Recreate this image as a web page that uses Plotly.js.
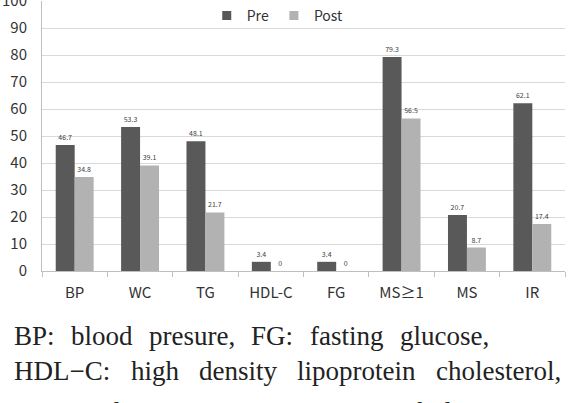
<!DOCTYPE html>
<html>
<head>
<meta charset="utf-8">
<script src="https://cdn.plot.ly/plotly-3.0.1.min.js"></script>
<style>
  html, body { margin: 0; padding: 0; background: #fff; }
  #chart { width: 575px; height: 403px; }
</style>
</head>
<body>
<div id="chart"></div>
<script>
// Prevalence (%) of each component before and after the programme
const categories = ['BP', 'WC', 'TG', 'HDL-C', 'FG', 'MS\u22651', 'MS', 'IR'];
const preValues  = [46.7, 53.3, 48.1, 3.4, 3.4, 79.3, 20.7, 62.1];
const postValues = [34.8, 39.1, 21.7, 0, 0, 56.5, 8.7, 17.4];
const seriesNames = ['Pre', 'Post'];
const yTicks = [0, 10, 20, 30, 40, 50, 60, 70, 80, 90, 100];

// Abbreviation notes printed under the chart
const captionLines = [
  'BP: blood presure, FG: fasting glucose,',
  'HDL\u2212C: high density lipoprotein cholesterol,',
  'IR: Insulin Resistance, MS: metabolic'
];

const W = 575, H = 403;
const M = { l: 42, r: 10, t: 0, b: 132 };
const plotW = W - M.l - M.r;
const plotH = H - M.t - M.b;

const preColor = '#595959';
const postColor = '#b2b2b2';
const labelFont = '"Noto Sans CJK KR", "Noto Sans", sans-serif';
const captionFont = '"Liberation Serif", "DejaVu Serif", serif';

function barTrace(name, values, color) {
  return {
    type: 'bar', name: name, x: categories, y: values,
    marker: { color: color },
    text: values.map(v => String(v)),
    textposition: 'outside',
    textfont: { family: labelFont, size: 7, color: '#404040' },
    cliponaxis: false,
    showlegend: false,
    hoverinfo: 'x+y'
  };
}

// Legend entries with small square swatches
function legendTrace(name, color) {
  return {
    type: 'scatter', mode: 'markers', name: name, x: [null], y: [null],
    marker: { symbol: 'square', size: 9, color: color },
    showlegend: true, hoverinfo: 'skip'
  };
}

const traces = [
  barTrace(seriesNames[0], preValues, preColor),
  barTrace(seriesNames[1], postValues, postColor),
  legendTrace(seriesNames[0], preColor),
  legendTrace(seriesNames[1], postColor)
];

// Justify each caption line between two pixel columns, one annotation per word
const capSize = 27;
const measure = document.createElement('canvas').getContext('2d');
measure.font = capSize + 'px ' + captionFont;
const lineSpans = [[13, 488], [13, 560], [13, 470]];
const lineCentres = [336, 371, 413];
const annotations = [];
captionLines.forEach((line, i) => {
  const words = line.split(' ');
  const widths = words.map(w => measure.measureText(w).width);
  const total = widths.reduce((a, b) => a + b, 0);
  const [x0, x1] = lineSpans[i];
  const gap = Math.max(6, (x1 - x0 - total) / (words.length - 1));
  let px = x0;
  words.forEach((w, j) => {
    annotations.push({
      xref: 'paper', yref: 'paper',
      x: (px - M.l) / plotW,
      y: (M.t + plotH - lineCentres[i]) / plotH,
      xanchor: 'left', yanchor: 'middle',
      text: w, showarrow: false, borderpad: 0,
      font: { family: captionFont, size: capSize, color: '#222' }
    });
    px += widths[j] + gap;
  });
});

const layout = {
  width: W, height: H,
  margin: M,
  paper_bgcolor: '#fff', plot_bgcolor: '#fff',
  barmode: 'group', bargap: 0.42, bargroupgap: 0,
  showlegend: true,
  legend: {
    orientation: 'h', x: 0.315, y: 1.005, xanchor: 'left', yanchor: 'top',
    font: { family: labelFont, size: 14, color: '#333' },
    itemwidth: 30, bgcolor: 'rgba(0,0,0,0)', traceorder: 'normal'
  },
  xaxis: {
    type: 'category',
    showgrid: false, zeroline: false,
    showline: true, linecolor: '#bfbfbf', linewidth: 1,
    ticks: 'outside', tickson: 'boundaries', ticklen: 5, tickcolor: '#bfbfbf',
    tickfont: { family: labelFont, size: 15, color: '#333' },
    ticklabelstandoff: 8
  },
  yaxis: {
    range: [0, 100], tickvals: yTicks, ticktext: yTicks.map(String),
    showgrid: true, gridcolor: '#d9d9d9', gridwidth: 1,
    zeroline: false, showline: true, linecolor: '#bfbfbf', linewidth: 1,
    ticks: '', tickfont: { family: labelFont, size: 15, color: '#333' },
    ticklabelstandoff: 11, ticklabeloverflow: 'allow'
  },
  annotations: annotations
};

Plotly.newPlot('chart', traces, layout, { displayModeBar: false, staticPlot: true });
</script>
</body>
</html>
